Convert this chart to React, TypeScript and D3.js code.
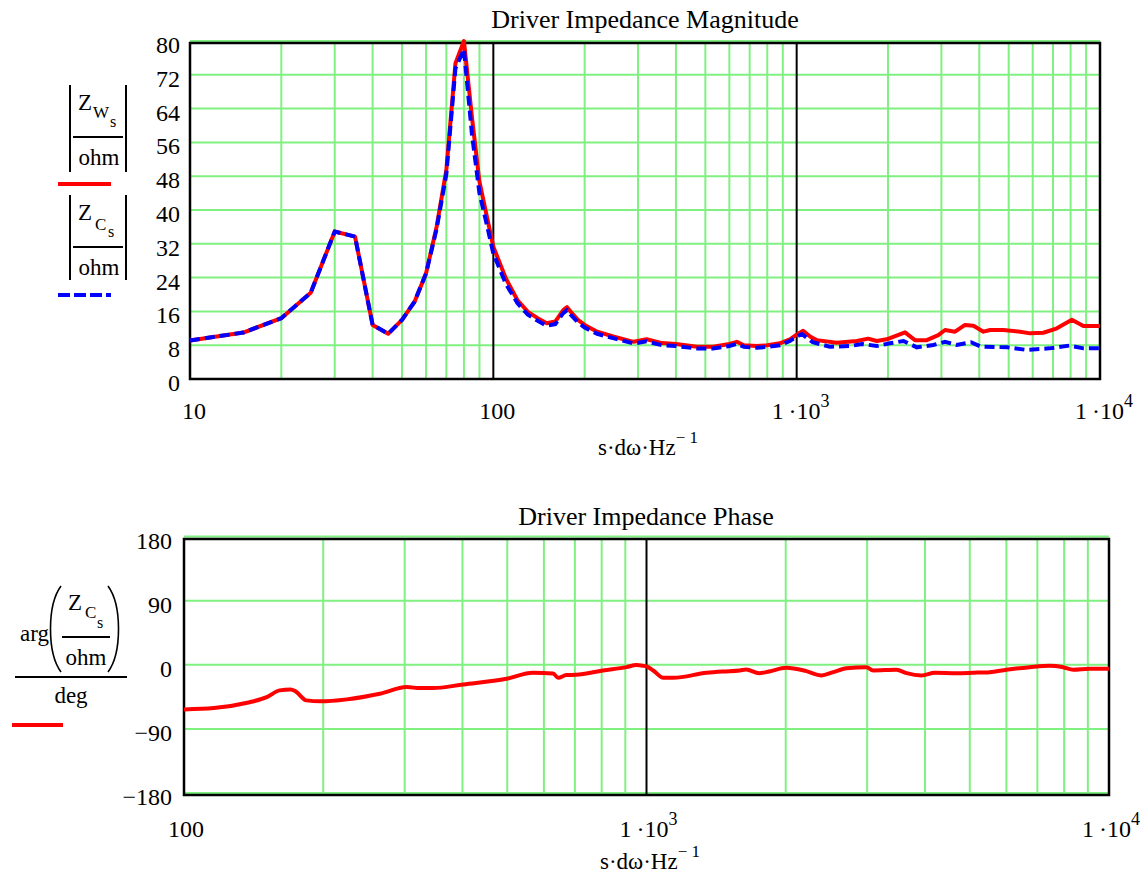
import React from "react";
import * as d3 from "d3";

// ---- Data: top chart (impedance magnitude, ohm) ----
const zwFreq = [10,15,20,25,30,35,40,45,50,55,60,65,70,75,80,85,90,95,100,110,120,130,140,150,160,170,175,180,190,200,220,250,290,320,360,400,470,530,600,635,670,740,800,880,950,1000,1050,1110,1164,1355,1578,1722,1836,1981,2276,2455,2684,2931,3084,3328,3590,3826,4128,4345,4806,5455,5888,6506,7210,8078,8814,10000];
const zwMag = [9.1,11.0,14.4,20.4,34.9,33.7,12.8,10.7,14.0,18.3,25.0,36,49.5,74.7,80,62,46.7,38.8,31.3,23.8,18.7,15.9,14.4,13.2,13.6,16.3,17.0,15.9,14.0,12.8,11.2,10.0,8.8,9.4,8.5,8.3,7.65,7.65,8.3,8.8,8.0,7.8,8.0,8.45,9.4,10.5,11.4,10.0,9.2,8.6,9.0,9.55,9.0,9.4,11.05,9.2,9.2,10.4,11.6,11.2,12.8,12.6,11.2,11.6,11.6,11.2,10.8,10.95,12.0,14.0,12.55,12.55];

const zcFreq = [10,15,20,25,30,35,40,45,50,55,60,65,70,75,80,85,90,95,100,110,120,130,140,150,160,170,175,180,190,200,220,250,290,320,360,400,470,530,600,635,670,740,800,880,950,1000,1040,1130,1285,1500,1645,1836,2030,2250,2490,2820,3084,3370,3760,4050,4950,5700,6800,7920,8814,10000];
const zcMag = [9.1,11.0,14.4,20.4,34.9,33.7,12.8,10.7,14.0,18.3,25.0,35.5,48.5,73.5,78,58,44,36.8,29.7,22.5,18.0,15.2,13.8,12.6,13.0,15.6,16.3,15.2,13.4,12.2,10.7,9.6,8.4,8.9,8.0,7.8,7.2,7.2,7.8,8.3,7.6,7.4,7.6,8.0,9.0,10.0,10.65,8.7,7.65,7.8,8.3,7.8,8.45,9.0,7.5,8.05,8.8,8.05,8.7,7.65,7.5,6.9,7.25,7.9,7.25,7.25];

const magTicks = [0,8,16,24,32,40,48,56,64,72,80];
const topDecades = [10,100,1000,10000];

// ---- Data: bottom chart (phase, deg) ----
const phFreq = [100,116,137,151,161,170,174,184,197,225,265,303,324,345,402,498,568,628,644,671,704,805,905,950,982,1000,1034,1087,1142,1349,1466,1592,1642,1752,1842,2005,2216,2388,2533,2706,2990,3090,3472,3649,3932,4202,4680,5084,5524,6000,6738,7445,7960,8366,9088,10000];
const phDeg = [-62.7,-60.8,-53.3,-45.4,-36,-34.6,-37,-50,-51.4,-48.6,-40.7,-31.4,-32.8,-32.8,-27.6,-19.7,-11.3,-12.2,-18.3,-14.5,-14.1,-8.0,-3.3,-0.5,-1.4,-2.4,-8,-18.3,-18.3,-11.3,-9.4,-8,-6.6,-11.8,-9.4,-4.2,-9.0,-15,-10.4,-4.8,-3.4,-8,-7,-11.8,-15,-11.2,-11.8,-11.2,-10.4,-7,-3.4,-1.4,-3.4,-7,-5.6,-5.6];

const phTicks = [-180,-90,0,90,180];
const botDecades = [100,1000,10000];

const FONT = "'Liberation Serif', 'Times New Roman', serif";
const GREEN = "#80f080";
const FS = 24;
const AX_FS = 23;
const TITLE_FS = 26;

function minorTicks(lo: number, hi: number) {
  const out: number[] = [];
  for (let d = lo; d < hi; d *= 10) {
    for (let k = 2; k <= 9; k++) out.push(d * k);
  }
  return out;
}

function DecadeLabel({ v, x, y }: { v: number; x: number; y: number }) {
  if (v < 1000) {
    return (
      <text x={x} y={y} textAnchor="middle" fontSize={FS}>{String(v)}</text>
    );
  }
  const exp = Math.round(Math.log10(v));
  return (
    <text x={x} y={y} textAnchor="middle" fontSize={FS}>
      {"1\u2009\u00b710"}
      <tspan dy={-12} fontSize={18}>{String(exp)}</tspan>
    </text>
  );
}

function AxisTitle({ x, y }: { x: number; y: number }) {
  return (
    <text x={x} y={y} textAnchor="middle" fontSize={AX_FS}>
      {"s\u00b7d\u03c9\u00b7Hz"}
      <tspan dy={-12} fontSize={17}>{"\u2212 1"}</tspan>
    </text>
  );
}

export default function App() {
  // top chart scales
  const tx = d3.scaleLog().domain([10, 10000]).range([190, 1100]);
  const ty = d3.scaleLinear().domain([0, 80]).range([379, 41]);
  // bottom chart scales
  const bx = d3.scaleLog().domain([100, 10000]).range([184, 1109]);
  const by = d3.scaleLinear().domain([-180, 180]).range([793, 536.5]);

  const topLine = d3.line<[number, number]>().x(d => tx(d[0])).y(d => ty(d[1])).curve(d3.curveLinear);
  const botLine = d3.line<[number, number]>().x(d => bx(d[0])).y(d => by(d[1])).curve(d3.curveMonotoneX);

  const zwPath = topLine(zwFreq.map((f, i) => [f, zwMag[i]] as [number, number])) || "";
  const zcPath = topLine(zcFreq.map((f, i) => [f, zcMag[i]] as [number, number])) || "";
  const phPath = botLine(phFreq.map((f, i) => [f, phDeg[i]] as [number, number])) || "";

  const topMinor = minorTicks(10, 10000);
  const botMinor = minorTicks(100, 10000);

  return (
    <svg width={1140} height={879} style={{ position: "absolute", left: 0, top: 0, background: "#fff" }}
      fontFamily={FONT} fill="#000">
      <rect x={0} y={0} width={1140} height={879} fill="#fff" />

      {/* ===== TOP CHART ===== */}
      <text x={645} y={28} textAnchor="middle" fontSize={TITLE_FS}>Driver Impedance Magnitude</text>
      {/* grid */}
      {magTicks.map(v => (
        <line key={"th" + v} x1={190} x2={1100} y1={ty(v)} y2={ty(v)} stroke={GREEN} strokeWidth={2} />
      ))}
      {topMinor.map(f => (
        <line key={"tv" + f} x1={tx(f)} x2={tx(f)} y1={43} y2={379} stroke={GREEN} strokeWidth={2} />
      ))}
      {[100, 1000].map(f => (
        <line key={"td" + f} x1={tx(f)} x2={tx(f)} y1={43} y2={379} stroke="#000" strokeWidth={2} />
      ))}
      <rect x={190} y={43} width={910} height={336} fill="none" stroke="#000" strokeWidth={2.5} />
      {/* y tick labels */}
      {magTicks.map(v => (
        <text key={"tyl" + v} x={180} y={ty(v) + 12} textAnchor="end" fontSize={FS}>{String(v)}</text>
      ))}
      {/* x tick labels */}
      {topDecades.map(v => (
        <DecadeLabel key={"txl" + v} v={v} x={tx(v) + 4} y={419} />
      ))}
      <AxisTitle x={648} y={455} />
      {/* data */}
      <path d={zwPath} fill="none" stroke="#ff0000" strokeWidth={4} strokeLinejoin="round" />
      <path d={zcPath} fill="none" stroke="#0000ff" strokeWidth={4} strokeDasharray="10 5" />

      {/* top legend */}
      <g>
        <line x1={70} x2={70} y1={85} y2={172} stroke="#000" strokeWidth={2} />
        <line x1={126} x2={126} y1={85} y2={172} stroke="#000" strokeWidth={2} />
        <text x={78} y={110} fontSize={23}>Z</text>
        <text x={93} y={118} fontSize={17}>W</text>
        <text x={110} y={127} fontSize={16}>s</text>
        <line x1={73} x2={123} y1={137} y2={137} stroke="#000" strokeWidth={2} />
        <text x={99} y={165} textAnchor="middle" fontSize={23}>ohm</text>
        <line x1={58} x2={111} y1={184} y2={184} stroke="#ff0000" strokeWidth={4} />

        <line x1={70} x2={70} y1={195} y2={280} stroke="#000" strokeWidth={2} />
        <line x1={126} x2={126} y1={195} y2={280} stroke="#000" strokeWidth={2} />
        <text x={78} y={220} fontSize={23}>Z</text>
        <text x={95} y={230} fontSize={17}>C</text>
        <text x={108} y={237} fontSize={16}>s</text>
        <line x1={73} x2={123} y1={247} y2={247} stroke="#000" strokeWidth={2} />
        <text x={99} y={275} textAnchor="middle" fontSize={23}>ohm</text>
        <line x1={58} x2={111} y1={295} y2={295} stroke="#0000ff" strokeWidth={4} strokeDasharray="12 4" />
      </g>

      {/* ===== BOTTOM CHART ===== */}
      <text x={646} y={525} textAnchor="middle" fontSize={TITLE_FS}>Driver Impedance Phase</text>
      {phTicks.map(v => (
        <line key={"bh" + v} x1={184} x2={1109} y1={by(v)} y2={by(v)} stroke={GREEN} strokeWidth={2} />
      ))}
      {botMinor.map(f => (
        <line key={"bv" + f} x1={bx(f)} x2={bx(f)} y1={539} y2={795} stroke={GREEN} strokeWidth={2} />
      ))}
      {[1000].map(f => (
        <line key={"bd" + f} x1={bx(f)} x2={bx(f)} y1={539} y2={795} stroke="#000" strokeWidth={2} />
      ))}
      <rect x={184} y={539} width={925} height={256} fill="none" stroke="#000" strokeWidth={2.5} />
      {phTicks.map(v => (
        <text key={"byl" + v} x={172} y={by(v) + 12} textAnchor="end" fontSize={FS}>
          {v < 0 ? "\u2212" + String(-v) : String(v)}
        </text>
      ))}
      {botDecades.map(v => (
        <DecadeLabel key={"bxl" + v} v={v} x={bx(v) + 2} y={837} />
      ))}
      <AxisTitle x={650} y={869} />
      <path d={phPath} fill="none" stroke="#ff0000" strokeWidth={4} strokeLinejoin="round" />

      {/* bottom legend */}
      <g>
        <text x={20} y={641} fontSize={23}>arg</text>
        <path d="M 61 586 C 47 605, 47 653, 61 672" fill="none" stroke="#000" strokeWidth={1.6} />
        <path d="M 108 586 C 122 605, 122 653, 108 672" fill="none" stroke="#000" strokeWidth={1.6} />
        <text x={68} y={610} fontSize={23}>Z</text>
        <text x={85} y={618} fontSize={17}>C</text>
        <text x={97} y={628} fontSize={16}>s</text>
        <line x1={62} x2={110} y1={637} y2={637} stroke="#000" strokeWidth={2} />
        <text x={86} y={665} textAnchor="middle" fontSize={23}>ohm</text>
        <line x1={15} x2={127} y1={677} y2={677} stroke="#000" strokeWidth={2} />
        <text x={71} y={703} textAnchor="middle" fontSize={23}>deg</text>
        <line x1={12} x2={63} y1={725} y2={725} stroke="#ff0000" strokeWidth={4} />
      </g>
    </svg>
  );
}
